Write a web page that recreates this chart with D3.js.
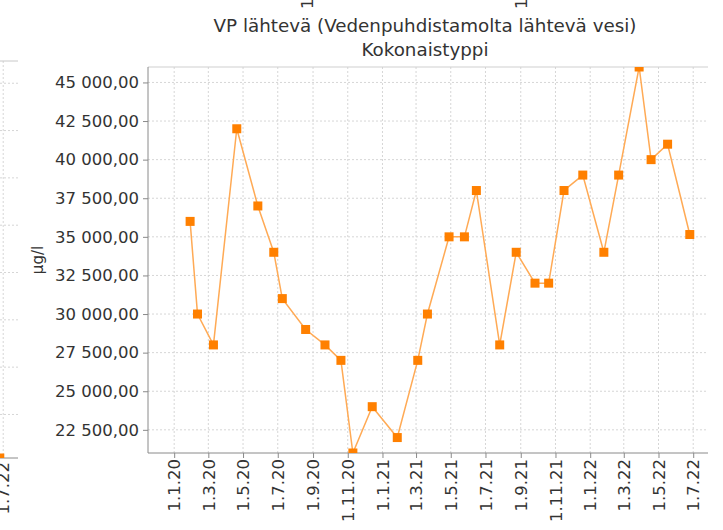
<!DOCTYPE html>
<html>
<head>
<meta charset="utf-8">
<script src="https://cdn.jsdelivr.net/npm/d3@7"></script>
<style>
  body { margin: 0; background: #fff; }
  svg { display: block; font-family: "DejaVu Sans", sans-serif; }
</style>
</head>
<body>
<div id="chart"></div>
<script>
// näytteenottopäivät ja kokonaistyppi (µg/l)
const dates = ["2020-01-29","2020-02-11","2020-03-10","2020-04-20","2020-05-27","2020-06-24",
  "2020-07-09","2020-08-19","2020-09-22","2020-10-20","2020-11-10","2020-12-14",
  "2021-01-27","2021-03-04","2021-03-21","2021-04-28","2021-05-25","2021-06-15",
  "2021-07-26","2021-08-24","2021-09-26","2021-10-20","2021-11-16","2021-12-19",
  "2022-01-25","2022-02-20","2022-03-28","2022-04-18","2022-05-17","2022-06-25"];
const values = [36000,30000,28000,42000,37000,34000,
  31000,29000,28000,27000,21000,24000,
  22000,27000,30000,35000,35000,38000,
  28000,34000,32000,32000,38000,39000,
  34000,39000,46000,40000,41000,35150];
const yTicks = [22500,25000,27500,30000,32500,35000,37500,40000,42500,45000];
const title = "VP lähtevä (Vedenpuhdistamolta lähtevä vesi)";
const subtitle = "Kokonaistyppi";
const yLabel = "µg/l";
// naapurikaavioiden reunoilta näkyvät palat
const leftLastDate = "2022-06-25";
const leftTickLabel = "1.7.22";
const topTickLabels = ["1.11.20","1.11.21"];

const W = 723, H = 530;
const plot = {left: 148, right: 708, top: 67, bottom: 453};

const parse = d3.timeParse("%Y-%m-%d");
const data = dates.map((d, i) => ({date: parse(d), value: values[i]}));

const fi = d3.formatLocale({decimal: ",", thousands: "\u00a0", grouping: [3], currency: ["", "€"]});
const yFmt = fi.format(",.2f");
const xFmt = d => d.getDate() + "." + (d.getMonth() + 1) + "." + String(d.getFullYear()).slice(2);

const x = d3.scaleTime()
  .domain([new Date(2019, 10, 16), new Date(2022, 6, 27)])
  .range([plot.left, plot.right]);
const y = d3.scaleLinear().domain([21000, 46000]).range([plot.bottom, plot.top]);
const xTicks = d3.timeMonth.every(2).range(new Date(2020, 0, 1), new Date(2022, 6, 2));

const svg = d3.select("#chart").append("svg").attr("width", W).attr("height", H);

const gridColor = "#d6d6d6", axisColor = "#8a8a8a";
const lineColor = "#ffaa55", markColor = "#ff8000", tickFont = 16.5;

// --- vasemman naapurikaavion reuna ---
const frag = svg.append("g");
const fx = x.copy().range([plot.left - 690, plot.right - 690]);
const fy = d3.scaleLinear().domain([-0.92, 7.47]).range([458, 61]);
frag.append("g").selectAll("line").data(d3.range(0, 8)).join("line")
  .attr("x1", 0).attr("x2", fx.range()[1]).attr("y1", d => fy(d)).attr("y2", d => fy(d))
  .attr("stroke", gridColor).attr("stroke-dasharray", "2,2");
frag.append("line").attr("x1", fx(new Date(2022, 6, 1))).attr("x2", fx(new Date(2022, 6, 1)))
  .attr("y1", 61).attr("y2", 458).attr("stroke", gridColor).attr("stroke-dasharray", "2,2");
frag.append("line").attr("x1", 0).attr("x2", fx.range()[1]).attr("y1", 61).attr("y2", 61).attr("stroke", "#c8c8c8");
frag.append("line").attr("x1", 0).attr("x2", fx.range()[1]).attr("y1", 458).attr("y2", 458).attr("stroke", axisColor);
svg.append("clipPath").attr("id", "fclip").append("rect")
  .attr("x", 0).attr("y", 61).attr("width", fx.range()[1]).attr("height", 397);
frag.append("rect").attr("clip-path", "url(#fclip)")
  .attr("x", fx(parse(leftLastDate)) - 4.5).attr("y", fy(-0.92) - 4.5)
  .attr("width", 9).attr("height", 9).attr("fill", markColor);
frag.append("text")
  .attr("transform", `translate(${fx(new Date(2022, 6, 1))},${462}) rotate(-90)`)
  .attr("text-anchor", "end").attr("dy", "0.35em")
  .attr("font-size", tickFont).attr("fill", "#333").text(leftTickLabel);

// --- yläpuolisen kaavion akselitekstien alapäät ---
const tx = d3.scaleTime().domain([new Date(2020, 10, 1), new Date(2021, 10, 1)]).range([307, 521]);
svg.append("g").selectAll("text").data(topTickLabels).join("text")
  .attr("transform", (d, i) => `translate(${tx(new Date(2020 + i, 10, 1))},9) rotate(-90)`)
  .attr("text-anchor", "start").attr("dy", "0.35em")
  .attr("font-size", tickFont).attr("fill", "#333").text(d => d);

// --- otsikot ---
const cx = (plot.left + plot.right) / 2 - 3;
svg.append("text").attr("x", cx).attr("y", 32).attr("text-anchor", "middle")
  .attr("font-size", 18.3).attr("fill", "#333").text(title);
svg.append("text").attr("x", cx).attr("y", 56).attr("text-anchor", "middle")
  .attr("font-size", 18.3).attr("fill", "#333").text(subtitle);

// --- ruudukko ---
const grid = svg.append("g").attr("stroke", gridColor).attr("stroke-dasharray", "2,2");
grid.selectAll(".gy").data(yTicks).join("line")
  .attr("x1", plot.left).attr("x2", plot.right)
  .attr("y1", d => y(d)).attr("y2", d => y(d));
grid.selectAll(".gx").data(xTicks).join("line")
  .attr("x1", d => x(d)).attr("x2", d => x(d))
  .attr("y1", plot.top).attr("y2", plot.bottom);

svg.append("line").attr("x1", plot.left).attr("x2", plot.right)
  .attr("y1", plot.top).attr("y2", plot.top).attr("stroke", "#cfcfcf");

// --- akselit ---
const yAxis = svg.append("g").attr("transform", `translate(${plot.left},0)`)
  .call(d3.axisLeft(y).tickValues(yTicks).tickFormat(yFmt).tickSize(5).tickPadding(4));
const xAxis = svg.append("g").attr("transform", `translate(0,${plot.bottom})`)
  .call(d3.axisBottom(x).tickValues(xTicks).tickFormat(xFmt).tickSize(5).tickPadding(4));
[yAxis, xAxis].forEach(a => {
  a.select(".domain").attr("stroke", axisColor);
  a.selectAll(".tick line").attr("stroke", axisColor);
  a.selectAll(".tick text").attr("font-size", tickFont).attr("fill", "#333")
    .attr("font-family", "DejaVu Sans, sans-serif");
});
yAxis.select(".domain").attr("d", `M0,${plot.top}V${plot.bottom}`);
xAxis.select(".domain").attr("d", `M${plot.left},0H${plot.right}`);
xAxis.selectAll(".tick text")
  .attr("transform", "rotate(-90)").attr("text-anchor", "end")
  .attr("x", -6).attr("y", 0).attr("dy", "0.35em");

svg.append("text")
  .attr("transform", `translate(38,${(plot.top + plot.bottom) / 2}) rotate(-90)`)
  .attr("text-anchor", "middle").attr("dy", "0.35em")
  .attr("font-size", 15).attr("fill", "#333").text(yLabel);

// --- sarja ---
svg.append("clipPath").attr("id", "pclip").append("rect")
  .attr("x", plot.left).attr("y", plot.top)
  .attr("width", plot.right - plot.left).attr("height", plot.bottom - plot.top);
const series = svg.append("g").attr("clip-path", "url(#pclip)");
series.append("path").datum(data)
  .attr("fill", "none").attr("stroke", lineColor).attr("stroke-width", 1.5)
  .attr("d", d3.line().x(d => x(d.date)).y(d => y(d.value)));
series.selectAll("rect").data(data).join("rect")
  .attr("x", d => x(d.date) - 4.5).attr("y", d => y(d.value) - 4.5)
  .attr("width", 9).attr("height", 9).attr("fill", markColor);
</script>
</body>
</html>
